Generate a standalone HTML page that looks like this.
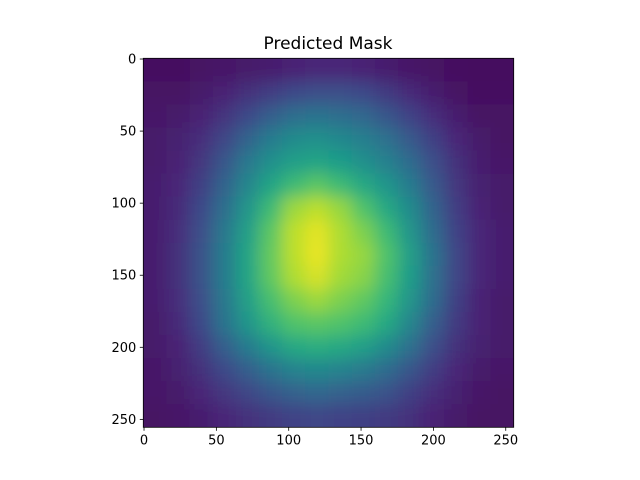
<!DOCTYPE html>
<html><head><meta charset="utf-8"><style>
html,body{margin:0;padding:0;background:#fff;}
svg{display:block;font-family:"DejaVu Sans","Liberation Sans",sans-serif;}
</style></head><body>
<svg id="chart" width="640" height="480" viewBox="0 0 640 480">
<defs>
<clipPath id="axclip"><rect x="143.3" y="58.3" width="370.4" height="369"/></clipPath>
<filter id="blur" x="0" y="0" width="1" height="1"><feGaussianBlur stdDeviation="8" edgeMode="duplicate"/></filter>
</defs>
<text x="328" y="49" text-anchor="middle" font-size="17" fill="#000">Predicted Mask</text>
<g clip-path="url(#axclip)"><rect x="143.3" y="58.3" width="370.4" height="369" fill="#460a5d"/><g id="cells" filter="url(#blur)"></g></g>
<rect x="143.3" y="58.3" width="370.4" height="369" fill="none" stroke="#000" stroke-width="0.8"/>
<g id="xticks"></g>
<g id="yticks"></g>
</svg>
<script>
const gridSize = 256;
const cellStep = 16;
const tickValues = [0, 50, 100, 150, 200, 250];
const tickLabels = ["0", "50", "100", "150", "200", "250"];
const maskValues = [
[.04,.04,.05,.06,.07,.08,.10,.11,.11,.10,.08,.06,.05,.04,.03,.03],
[.05,.05,.07,.10,.14,.18,.22,.24,.24,.22,.17,.12,.08,.05,.04,.04],
[.06,.07,.10,.15,.22,.30,.36,.38,.36,.33,.27,.20,.13,.08,.05,.05],
[.07,.09,.13,.21,.32,.42,.48,.50,.47,.43,.37,.28,.19,.11,.07,.05],
[.07,.10,.16,.27,.40,.50,.56,.58,.55,.50,.44,.35,.24,.14,.08,.06],
[.08,.11,.19,.32,.46,.58,.68,.74,.68,.60,.52,.42,.28,.16,.09,.07],
[.08,.12,.22,.36,.52,.68,.85,.90,.84,.72,.60,.48,.32,.18,.10,.07],
[.08,.13,.24,.40,.56,.74,.90,.96,.88,.80,.68,.52,.35,.20,.11,.08],
[.08,.14,.25,.42,.58,.76,.90,.97,.88,.84,.72,.56,.38,.21,.11,.08],
[.08,.14,.25,.42,.58,.75,.88,.94,.86,.82,.70,.55,.37,.21,.11,.08],
[.08,.13,.24,.40,.56,.70,.80,.85,.80,.75,.66,.52,.35,.19,.10,.07],
[.07,.12,.22,.38,.52,.64,.72,.74,.72,.68,.60,.46,.30,.17,.10,.07],
[.07,.10,.18,.30,.42,.52,.60,.62,.60,.56,.48,.37,.24,.14,.09,.07],
[.06,.09,.14,.22,.30,.38,.45,.47,.45,.41,.35,.27,.18,.11,.07,.06],
[.06,.07,.11,.16,.21,.27,.31,.33,.31,.29,.25,.19,.13,.09,.06,.05],
[.05,.06,.08,.11,.14,.17,.20,.21,.20,.19,.17,.14,.10,.07,.05,.05]
];
const L=143.3,T=58.3,W=370.4,H=369;
const xs=v=>L+(v+0.5)/gridSize*W;
const ys=v=>T+(v+0.5)/gridSize*H;
const vir=[[68,1,84],[72,40,120],[62,74,137],[49,104,142],[38,130,142],[31,158,137],[53,183,121],[109,205,89],[180,222,44],[253,231,37]];
function color(t){t=Math.max(0,Math.min(1,t))*(vir.length-1);const i=Math.min(Math.floor(t),vir.length-2),f=t-i;
const c=vir[i].map((a,k)=>Math.round(a+(vir[i+1][k]-a)*f));return `rgb(${c[0]},${c[1]},${c[2]})`;}
const NS="http://www.w3.org/2000/svg";
const cells=document.getElementById('cells');
maskValues.forEach((row,r)=>row.forEach((v,c)=>{
const x0=c*cellStep-0.5,y0=r*cellStep-0.5;
const el=document.createElementNS(NS,'rect');


const xa=xs(x0),ya=ys(y0);
el.setAttribute('x',xa-(c===0?40:0));el.setAttribute('y',ya-(r===0?40:0));
el.setAttribute('width',xs(x0+cellStep)-xa+0.5+(c===0||c===15?40:0));
el.setAttribute('height',ys(y0+cellStep)-ya+0.5+(r===0||r===15?40:0));
el.setAttribute('fill',color(v));cells.appendChild(el);
}));
const xt=document.getElementById('xticks'),yt=document.getElementById('yticks');
tickValues.forEach((v,i)=>{
const x=xs(v);
let l=document.createElementNS(NS,'line');


l.setAttribute('x1',x);l.setAttribute('x2',x);l.setAttribute('y1',T+H);l.setAttribute('y2',T+H+3.5);l.setAttribute('stroke','#000');l.setAttribute('stroke-width','0.8');xt.appendChild(l);
let t=document.createElementNS(NS,'text');


t.setAttribute('x',x);t.setAttribute('y',T+H+17);t.setAttribute('text-anchor','middle');t.setAttribute('font-size','13');t.textContent=tickLabels[i];xt.appendChild(t);
const y=ys(v);
l=document.createElementNS(NS,'line');


l.setAttribute('x1',L-3.5);l.setAttribute('x2',L);l.setAttribute('y1',y);l.setAttribute('y2',y);l.setAttribute('stroke','#000');l.setAttribute('stroke-width','0.8');yt.appendChild(l);
t=document.createElementNS(NS,'text');


t.setAttribute('x',L-7);t.setAttribute('y',y+4.5);t.setAttribute('text-anchor','end');t.setAttribute('font-size','13');t.textContent=tickLabels[i];yt.appendChild(t);
});
</script>
</body></html>
